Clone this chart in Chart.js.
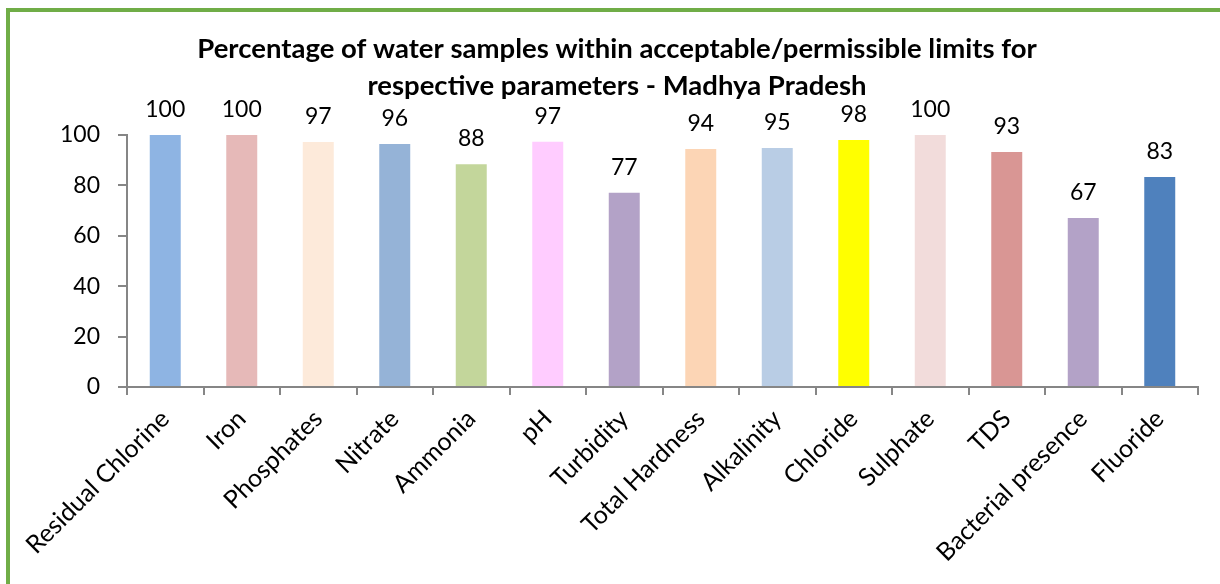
<!DOCTYPE html>
<html>
<head>
<meta charset="utf-8">
<script src="https://cdn.jsdelivr.net/npm/chart.js@4/dist/chart.umd.min.js"></script>
<style>
  html, body { margin: 0; padding: 0; background: #fff; }
  #wrap { position: relative; width: 1220px; height: 584px; overflow: hidden; }
  #frame {
    position: absolute; left: 6px; top: 8px; width: 1300px; height: 700px;
    border-left: 4px solid #70ad47; border-top: 4px solid #70ad47;
    pointer-events: none;
  }
</style>
</head>
<body>
<div id="wrap">
  <canvas id="c" width="1220" height="584"></canvas>
  <div id="frame"></div>
</div>
<script>
  // 数据
  const categories = ["Residual Chlorine", "Iron", "Phosphates", "Nitrate", "Ammonia", "pH", "Turbidity",
    "Total Hardness", "Alkalinity", "Chloride", "Sulphate", "TDS", "Bacterial presence", "Fluoride"];
  const values = [100, 100, 97.2, 96.4, 88.4, 97.3, 77.1, 94.4, 94.8, 98.0, 100, 93.3, 67.1, 83.3];
  const yTicks = [0, 20, 40, 60, 80, 100];
  const titleLines = ["Percentage of water samples within acceptable/permissible limits for",
    "respective parameters - Madhya Pradesh"];
  const barColors = ["#8eb4e3", "#e6b9b8", "#fdeada", "#95b3d7", "#c3d69b", "#ffccff", "#b3a2c7",
    "#fcd5b5", "#b9cde5", "#ffff00", "#f2dcdb", "#d99694", "#b3a2c7", "#4f81bd"];

  const FONT = "Lato, 'Open Sans', sans-serif";
  const AXIS = "#868686";
  Chart.defaults.font.family = FONT;
  Chart.defaults.color = "#000";

  // 标题 + 数值标签
  const labelsPlugin = {
    id: "labels",
    afterDatasetsDraw(chart) {
      const { ctx } = chart;
      const meta = chart.getDatasetMeta(0);
      ctx.save();
      ctx.fillStyle = "#000";
      ctx.font = "23px " + FONT;
      ctx.textAlign = "center";
      ctx.textBaseline = "alphabetic";
      meta.data.forEach((bar, i) => {
        ctx.fillText(String(Math.round(values[i])), bar.x, bar.y - 18);
      });
      ctx.font = "bold 27.5px " + FONT;
      ctx.fillText(titleLines[0], 617, 58);
      ctx.fillText(titleLines[1], 617, 95);
      ctx.restore();
    },
  };

  new Chart(document.getElementById("c"), {
    type: "bar",
    data: {
      labels: categories,
      datasets: [{ data: values, backgroundColor: barColors, categoryPercentage: 1, barPercentage: 0.405 }],
    },
    options: {
      responsive: false,
      animation: false,
      layout: { padding: { top: 135, right: 22, left: 0, bottom: 0 } },
      plugins: { legend: { display: false }, tooltip: { enabled: false } },
      scales: {
        x: {
          afterFit(s) { s.height = 197; },
          grid: { drawOnChartArea: false, drawTicks: true, tickLength: 8, color: AXIS, lineWidth: 2, offset: true },
          border: { display: true, color: AXIS, width: 2 },
          ticks: { autoSkip: false, minRotation: 45, maxRotation: 45, padding: 9, color: "#000", font: { size: 25 } },
        },
        y: {
          min: 0, max: 100,
          afterFit(s) { s.width = 127; },
          afterBuildTicks(s) { s.ticks = yTicks.map((v) => ({ value: v })); },
          grid: { drawOnChartArea: false, drawTicks: true, tickLength: 9, color: AXIS, lineWidth: 2 },
          border: { display: true, color: AXIS, width: 2 },
          ticks: { padding: 18, color: "#000", font: { size: 23 } },
        },
      },
    },
    plugins: [labelsPlugin],
  });
</script>
</body>
</html>
